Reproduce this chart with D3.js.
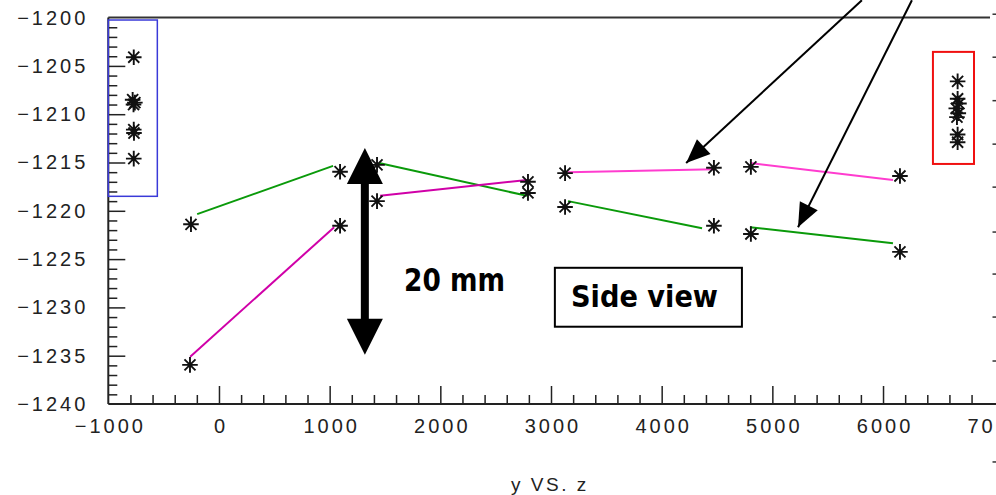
<!DOCTYPE html>
<html>
<head>
<meta charset="utf-8">
<script src="https://cdn.jsdelivr.net/npm/d3@7"></script>
<style>
  html, body { margin: 0; padding: 0; background: #fff; overflow: hidden; }
  svg { display: block; }
  .tick text { font-family: "Liberation Sans", Arial, sans-serif; font-size: 20px; letter-spacing: 3px; fill: #222; }
</style>
</head>
<body>
<svg id="chart" width="996" height="495"></svg>
<script>
// Hit positions (y vs. z), in mm
const leftCluster = [
  [-770, -1204.1], [-780, -1208.5], [-760, -1208.8], [-772, -1209.0],
  [-770, -1211.6], [-768, -1211.95], [-770, -1214.6]
];
const rightCluster = [
  [6674, -1206.6], [6674, -1208.4], [6686, -1208.9], [6662, -1209.4],
  [6680, -1209.9], [6668, -1210.3], [6674, -1212.1], [6674, -1212.9]
];
const hits = [
  [-253, -1221.4], [1094, -1215.95], [1094, -1221.55], [1428, -1215.25],
  [1428, -1219.0], [2792, -1217.0], [2792, -1218.15], [3127, -1216.1],
  [3127, -1219.6], [4472, -1215.55], [4472, -1221.55], [4806, -1215.45],
  [4806, -1222.4], [6153, -1216.4], [6153, -1224.25], [-262, -1235.95]
];

// Track segments fitted between neighbouring stations
const greenSegments = [
  [[-197, -1220.35], [1031, -1215.35]],
  [[1446, -1215.05], [2783, -1218.45]],
  [[3154, -1219.0], [4365, -1221.8]],
  [[4798, -1221.7], [6090, -1223.35]]
];
const magentaSegments = [
  [[-260, -1235.1], [1041, -1221.7]],
  [[1455, -1218.45], [2783, -1216.8]]
];
const pinkSegments = [
  [[3154, -1216.0], [4482, -1215.7]],
  [[4798, -1215.05], [6090, -1216.8]]
];

// Annotations
const pointerArrows = [
  [[5809, -1198.2], [4221, -1215.05]],
  [[6261, -1198.2], [5232, -1221.7]]
];
const scaleBar = { z: 1318, from: -1213.5, to: -1234.9, label: "20 mm" };
const blueBox = { x0: -1000, x1: -557, y0: -1200.25, y1: -1218.5 };
const redBox = { x0: 6451, x1: 6822, y0: -1203.55, y1: -1215.15 };
const viewBox = { x0: 3035, x1: 4725, y0: -1225.9, y1: -1232.0, label: "Side view" };

// Axis ticks
const xMajor = [-1000, 0, 1000, 2000, 3000, 4000, 5000, 6000, 7000];
const xMinor = d3.range(-800, 7000, 200).filter(v => v % 1000 !== 0);
const yMajor = [-1240, -1235, -1230, -1225, -1220, -1215, -1210, -1205, -1200];
const yMinor = d3.range(-1239, -1200, 1).filter(v => v % 5 !== 0);
const xTitle = "y VS. z";
// Clipped tick labels of the neighbouring panel along the right edge
const edgeMarks = [-1199.65, -1204.1, -1208.6, -1213.1, -1217.55, -1222.2, -1226.55, -1231.0, -1235.55, -1246.0];

const svg = d3.select("#chart");
const x = d3.scaleLinear().domain([-1000, 7000]).range([108.3, 993.7]);
const y = d3.scaleLinear().domain([-1240, -1200]).range([404, 17.6]);
const axisColor = "#222";

// Top frame line
svg.append("line")
  .attr("x1", x(-1000)).attr("x2", 990)
  .attr("y1", y(-1200)).attr("y2", y(-1200))
  .attr("stroke", "#333").attr("stroke-width", 2);

// X axis: major ticks with labels, minor ticks without
const gx = svg.append("g").attr("transform", `translate(0,${y(-1240)})`);
gx.call(d3.axisBottom(x).tickValues(xMajor).tickSize(-18).tickPadding(15).tickFormat(d3.format("d")))
  .call(g => g.select(".domain").remove());
gx.selectAll(".tick line").attr("stroke", axisColor).attr("stroke-width", 1.5);
gx.selectAll(".tick").filter(d => d === -1000 || d === 7000).select("line").remove();
gx.selectAll(".tick text").text(d => d < 0 ? "\u2212" + Math.abs(d) : d).attr("dx", "1.5px");
const gxm = svg.append("g").attr("transform", `translate(0,${y(-1240)})`);
gxm.call(d3.axisBottom(x).tickValues(xMinor).tickSize(-9).tickFormat(""))
  .call(g => g.select(".domain").remove());
gxm.selectAll(".tick line").attr("stroke", axisColor).attr("stroke-width", 1.5);
svg.append("line")
  .attr("x1", x(-1000)).attr("x2", 996)
  .attr("y1", y(-1240)).attr("y2", y(-1240))
  .attr("stroke", axisColor).attr("stroke-width", 2);

// Y axis: ticks point inward
const gy = svg.append("g").attr("transform", `translate(${x(-1000)},0)`);
gy.call(d3.axisLeft(y).tickValues(yMajor).tickSize(-17).tickPadding(20).tickFormat(d => "\u2212" + Math.abs(d)))
  .call(g => g.select(".domain").remove());
gy.selectAll(".tick line").attr("stroke", axisColor).attr("stroke-width", 1.5);
gy.selectAll(".tick").filter(d => d === -1200 || d === -1240).select("line").remove();
const gym = svg.append("g").attr("transform", `translate(${x(-1000)},0)`);
gym.call(d3.axisLeft(y).tickValues(yMinor).tickSize(-9).tickFormat(""))
  .call(g => g.select(".domain").remove());
gym.selectAll(".tick line").attr("stroke", axisColor).attr("stroke-width", 1.5);
svg.append("line")
  .attr("x1", x(-1000)).attr("x2", x(-1000))
  .attr("y1", y(-1200)).attr("y2", y(-1240))
  .attr("stroke", axisColor).attr("stroke-width", 2);

// Axis title
svg.append("text")
  .attr("x", x(2990)).attr("y", 491)
  .attr("text-anchor", "middle")
  .attr("font-family", "Liberation Sans, Arial, sans-serif")
  .attr("font-size", 19).attr("letter-spacing", "2.5px").attr("fill", "#222")
  .text(xTitle);

// Edge marks of the neighbouring panel
svg.append("g").selectAll("line").data(edgeMarks).join("line")
  .attr("x1", 992.5).attr("x2", 996)
  .attr("y1", d => y(d)).attr("y2", d => y(d))
  .attr("stroke", "#333").attr("stroke-width", 1.5);

// Selection boxes
function box(b, color, w) {
  svg.append("rect")
    .attr("x", x(b.x0)).attr("y", y(b.y0))
    .attr("width", x(b.x1) - x(b.x0)).attr("height", y(b.y1) - y(b.y0))
    .attr("fill", "none").attr("stroke", color).attr("stroke-width", w);
}
box(blueBox, "#3a3ad8", 1.5);
box(redBox, "#f01010", 2);

// Track segments
const line = d3.line().x(d => x(d[0])).y(d => y(d[1]));
function segs(data, color) {
  svg.append("g").selectAll("path").data(data).join("path")
    .attr("d", line).attr("fill", "none")
    .attr("stroke", color).attr("stroke-width", 2);
}
segs(greenSegments, "#0a9a0a");
segs(magentaSegments, "#d000a8");
segs(pinkSegments, "#ff3ccf");

// Asterisk markers
const r = 7.8;
const arms = d3.range(4).map(i => i * Math.PI / 4);
function stars(data) {
  const g = svg.append("g");
  data.forEach(d => {
    const cx = x(d[0]), cy = y(d[1]);
    const p = arms.map(a => `M${cx - r * Math.cos(a)},${cy - r * Math.sin(a)}L${cx + r * Math.cos(a)},${cy + r * Math.sin(a)}`).join("");
    g.append("path").attr("d", p).attr("stroke", "#111").attr("stroke-width", 1.9).attr("fill", "none");
    g.append("circle").attr("cx", cx).attr("cy", cy).attr("r", 2.4).attr("fill", "#111");
  });
}
stars(leftCluster);
stars(rightCluster);
stars(hits);

// Pointer arrows
function arrowHead(tip, from, len, half) {
  const dx = tip[0] - from[0], dy = tip[1] - from[1];
  const L = Math.hypot(dx, dy), ux = dx / L, uy = dy / L;
  const bx = tip[0] - ux * len, by = tip[1] - uy * len;
  return `M${tip[0]},${tip[1]}L${bx - uy * half},${by + ux * half}L${bx + uy * half},${by - ux * half}Z`;
}
pointerArrows.forEach(([a, b]) => {
  const p0 = [x(a[0]), y(a[1])], p1 = [x(b[0]), y(b[1])];
  svg.append("line").attr("x1", p0[0]).attr("y1", p0[1]).attr("x2", p1[0]).attr("y2", p1[1])
    .attr("stroke", "#000").attr("stroke-width", 2);
  svg.append("path").attr("d", arrowHead(p1, p0, 24, 10)).attr("fill", "#000");
});

// 20 mm scale bar
{
  const sx = x(scaleBar.z), t = y(scaleBar.from), b = y(scaleBar.to);
  svg.append("rect").attr("x", sx - 4).attr("y", t + 30).attr("width", 8).attr("height", b - t - 60).attr("fill", "#000");
  svg.append("path").attr("d", `M${sx},${t}L${sx - 18},${t + 36}L${sx + 18},${t + 36}Z`).attr("fill", "#000");
  svg.append("path").attr("d", `M${sx},${b}L${sx - 18},${b - 36}L${sx + 18},${b - 36}Z`).attr("fill", "#000");
  svg.append("text")
    .attr("x", 404).attr("y", 291)
    .attr("font-family", "'Comic Sans MS', 'DejaVu Sans', sans-serif")
    .attr("font-weight", "bold").attr("font-size", 32)
    .attr("textLength", 101).attr("lengthAdjust", "spacingAndGlyphs")
    .attr("fill", "#000")
    .text(scaleBar.label);
}

// View label
{
  const bx = x(viewBox.x0), by = y(viewBox.y0);
  svg.append("rect").attr("x", bx).attr("y", by)
    .attr("width", x(viewBox.x1) - bx).attr("height", y(viewBox.y1) - by)
    .attr("fill", "#fff").attr("stroke", "#000").attr("stroke-width", 2);
  svg.append("text")
    .attr("x", 571).attr("y", 307)
    .attr("font-family", "'Comic Sans MS', 'DejaVu Sans', sans-serif")
    .attr("font-weight", "bold").attr("font-size", 30)
    .attr("textLength", 147).attr("lengthAdjust", "spacingAndGlyphs")
    .attr("fill", "#000")
    .text(viewBox.label);
}
</script>
</body>
</html>
